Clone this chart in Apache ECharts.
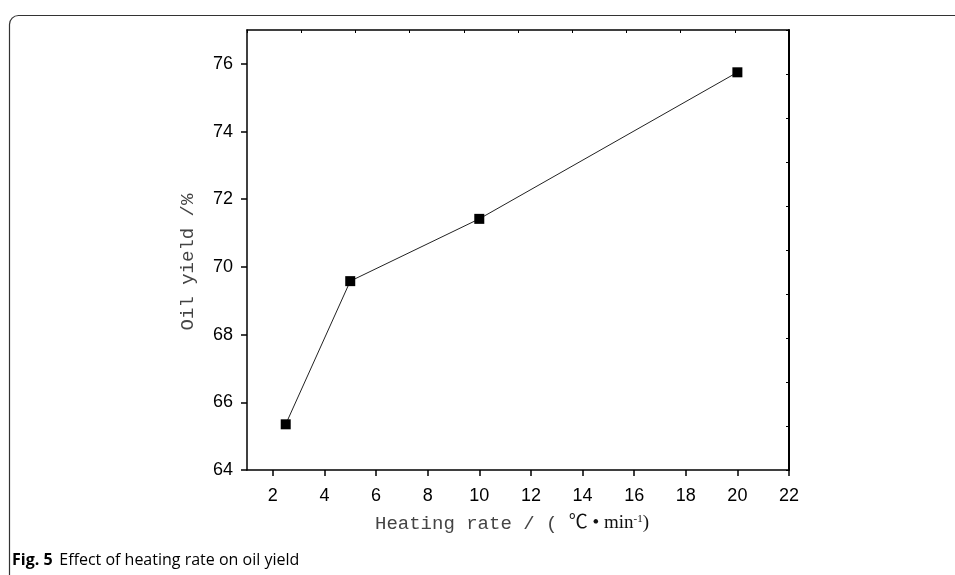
<!DOCTYPE html>
<html>
<head>
<meta charset="utf-8">
<script src="https://cdn.jsdelivr.net/npm/echarts@6/dist/echarts.min.js"></script>
<style>
  html, body { margin: 0; padding: 0; background: #fff; }
  #chart { width: 955px; height: 575px; }
</style>
</head>
<body>
<div id="chart"></div>
<script>
// heating rate (℃/min) vs oil yield (%)
const heatingRate = [2.5, 5, 10, 20];
const oilYield = [65.35, 69.58, 71.42, 75.75];
const xTicks = [2, 4, 6, 8, 10, 12, 14, 16, 18, 20, 22];

const chart = echarts.init(document.getElementById('chart'));

const tickFont = { fontFamily: 'Liberation Sans, Arial', fontSize: 18, color: '#000' };

const options = {
    animation: false,
    backgroundColor: '#fff',
    grid: { left: 247, right: 166, top: 30, bottom: 105, outerBoundsMode: 'none' },
    xAxis: [
        {
            type: 'value',
            position: 'bottom',
            min: 1,
            max: 22,
            name: '{a|Heating rate / ( }{b|℃ • min}{s|-1}{b|)}',
            nameLocation: 'middle',
            nameGap: 44,
            nameTextStyle: {
                padding: [0, 12, 0, 0],
                rich: {
                    a: { fontFamily: 'Liberation Mono', fontSize: 19, color: '#444' },
                    b: { fontFamily: 'Liberation Serif, Noto Sans CJK SC', fontSize: 19, color: '#111' },
                    s: { fontFamily: 'Liberation Serif', fontSize: 11, color: '#111', verticalAlign: 'top' }
                }
            },
            axisLine: { lineStyle: { color: '#000', width: 1.5 } },
            axisTick: { length: 6, lineStyle: { color: '#000', width: 1.5 }, customValues: xTicks },
            axisLabel: Object.assign({ margin: 17, customValues: xTicks }, tickFont),
            splitLine: { show: false }
        },
        {
            // top frame, its own even ticks
            type: 'value',
            position: 'top',
            min: 0,
            max: 10,
            interval: 1,
            axisLine: { show: true, lineStyle: { color: '#000', width: 1.5 } },
            axisTick: { inside: true, length: 3, lineStyle: { color: '#000', width: 1 } },
            axisLabel: { show: false },
            splitLine: { show: false }
        }
    ],
    yAxis: [
        {
            type: 'value',
            position: 'left',
            min: 64,
            max: 77,
            interval: 2,
            name: 'Oil yield /%',
            nameLocation: 'middle',
            nameGap: 50,
            nameTextStyle: {
                fontFamily: 'Liberation Mono',
                fontSize: 19,
                color: '#444',
                padding: [0, 24, 0, 0]
            },
            axisLine: { show: true, lineStyle: { color: '#000', width: 1.5 } },
            axisTick: { length: 6, lineStyle: { color: '#000', width: 1.5 } },
            axisLabel: Object.assign({ margin: 14, showMaxLabel: false }, tickFont),
            splitLine: { show: false }
        },
        {
            // right frame, its own even ticks
            type: 'value',
            position: 'right',
            min: 0,
            max: 10,
            interval: 1,
            axisLine: { show: true, lineStyle: { color: '#000', width: 2 } },
            axisTick: { inside: true, length: 3, lineStyle: { color: '#000', width: 1 } },
            axisLabel: { show: false },
            splitLine: { show: false }
        }
    ],
    graphic: [
        {
            type: 'rect',
            left: 7,
            top: 13,
            silent: true,
            shape: { width: 1000, height: 620, r: 9 },
            style: { fill: 'none', stroke: '#333', lineWidth: 1.2 }
        },
        {
            type: 'text',
            left: 12,
            top: 552,
            style: {
                text: '{b|Fig. 5}  {r|Effect of heating rate on oil yield}',
                rich: {
                    b: { fontFamily: 'Open Sans', fontWeight: 'bold', fontSize: 16, color: '#222' },
                    r: { fontFamily: 'Open Sans', fontSize: 16, color: '#333' }
                }
            }
        }
    ],
    series: [
        {
            type: 'line',
            xAxisIndex: 0,
            yAxisIndex: 0,
            data: heatingRate.map((x, i) => [x, oilYield[i]]),
            symbol: 'rect',
            symbolSize: 10,
            itemStyle: { color: '#000' },
            lineStyle: { color: '#222', width: 1 }
        }
    ]
};

chart.setOption(options);
</script>
</body>
</html>
